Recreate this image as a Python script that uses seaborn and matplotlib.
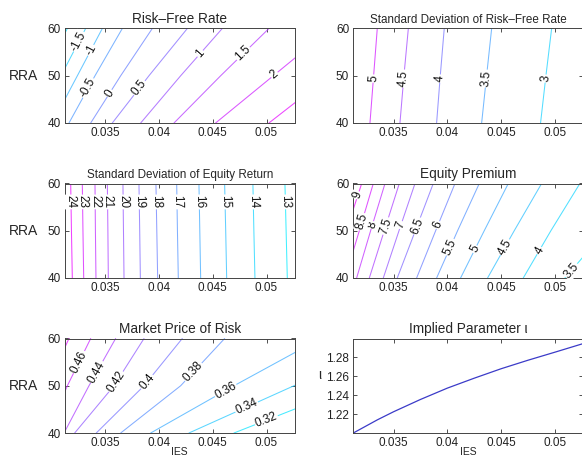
import numpy as np
import pandas as pd
import matplotlib
matplotlib.use("Agg")
import matplotlib.pyplot as plt
import seaborn as sns

# every contour is stored as the IES value where it crosses RRA = 40 / 50 / 60
rra_rows = [40, 50, 60]

rf_levels = [-2, -1.5, -1, -0.5, 0, 0.5, 1, 1.5, 2, 2.5]
rf_at40 = [0.02688, 0.02858, 0.03007, 0.03162, 0.03364, 0.03565, 0.03829, 0.04139, 0.04526, 0.05022]
rf_at50 = [0.02917, 0.03088, 0.03240, 0.03404, 0.03643, 0.03906, 0.04201, 0.04573, 0.05063, 0.05586]
rf_at60 = [0.03147, 0.03317, 0.03472, 0.03658, 0.03937, 0.04263, 0.04588, 0.05022, 0.05599, 0.06123]
rf_label_rra = [None, 57.2, 55.4, 47.4, 46.3, 47.4, 54.7, 54.7, 50.2, None]

sdrf_levels = [3, 3.5, 4, 4.5, 5]
sdrf_at40 = [0.04867, 0.04319, 0.03900, 0.03559, 0.03280]
sdrf_at50 = [0.04917, 0.04365, 0.03934, 0.03596, 0.03314]
sdrf_at60 = [0.04970, 0.04412, 0.03971, 0.03637, 0.03348]
sdrf_label_rra = [49.4] * 5

sdeq_levels = [13, 14, 15, 16, 17, 18, 19, 20, 21, 22, 23, 24]
sdeq_at40 = [0.05193, 0.04892, 0.04629, 0.04387, 0.04179, 0.03987, 0.03826, 0.03674, 0.03528, 0.03413, 0.03299, 0.03193]
sdeq_at50 = [0.05182, 0.04882, 0.04620, 0.04379, 0.04171, 0.03979, 0.03820, 0.03669, 0.03524, 0.03408, 0.03292, 0.03185]
sdeq_at60 = [0.05171, 0.04873, 0.04610, 0.04371, 0.04164, 0.03971, 0.03813, 0.03664, 0.03519, 0.03404, 0.03286, 0.03178]
sdeq_label_rra = [56.1] * 12

ep_levels = [3.5, 4, 4.5, 5, 5.5, 6, 6.5, 7, 7.5, 8, 8.5, 9]
ep_at40 = [0.05094, 0.04706, 0.04374, 0.04123, 0.03900, 0.03714, 0.03534, 0.03404, 0.03274, 0.03156, 0.03048, 0.02908]
ep_at50 = [0.05472, 0.04963, 0.04622, 0.04343, 0.04095, 0.03891, 0.03702, 0.03550, 0.03413, 0.03286, 0.03181, 0.03060]
ep_at60 = [0.05850, 0.05233, 0.04877, 0.04567, 0.04297, 0.04071, 0.03869, 0.03699, 0.03553, 0.03420, 0.03311, 0.03203]
ep_label_rra = [41.6, 45.8, 46.5, 46.1, 46.5, 51.2, 51.0, 51.2, 51.0, 51.2, 51.9, 57.5]

mpr_levels = [0.32, 0.34, 0.36, 0.38, 0.40, 0.42, 0.44, 0.46, 0.48]
mpr_at40 = [0.04697, 0.04278, 0.03922, 0.03643, 0.03416, 0.03215, 0.03116, 0.02961, 0.02775]
mpr_at50 = [0.05813, 0.05255, 0.04697, 0.04201, 0.03860, 0.03581, 0.03348, 0.03147, 0.02961]
mpr_at60 = [0.06712, 0.06092, 0.05503, 0.04610, 0.04216, 0.03860, 0.03596, 0.03364, 0.03162]
mpr_label_rra = [42.7, 45.5, 49.0, 52.9, 50.8, 50.8, 52.9, 55.0, None]

iota_ies = [0.03125, 0.0335, 0.035, 0.0375, 0.04, 0.0425, 0.045, 0.0475, 0.05, 0.0526]
iota_vals = [1.2000, 1.2140, 1.2225, 1.2355, 1.2475, 1.2580, 1.2680, 1.2770, 1.2855, 1.2945]

xlim = (0.03125, 0.0526)
xticks = [0.035, 0.04, 0.045, 0.05]
xticklabels = ["0.035", "0.04", "0.045", "0.05"]

sns.set_theme(style="white")
plt.rcParams["font.family"] = ["Liberation Sans", "DejaVu Sans"]
plt.rcParams["axes.unicode_minus"] = False


def long_frame(levels, cols):
    rows = []
    for i, lev in enumerate(levels):
        for r, col in zip(rra_rows, cols):
            rows.append({"level": lev, "RRA": r, "IES": col[i]})
    return pd.DataFrame(rows)


def style_axes(ax):
    ax.set_xlim(*xlim)
    ax.set_xticks(xticks)
    ax.set_xticklabels(xticklabels)
    ax.tick_params(direction="in", length=3, width=0.6, color="#333333",
                   top=True, right=True, bottom=True, left=True,
                   labelsize=8.5, labelcolor="#222222", pad=3)
    for s in ax.spines.values():
        s.set_linewidth(0.7)
        s.set_color("#444444")
    ax.set_xlabel("")
    ax.set_ylabel("")


def add_labels(ax, levels, cols, label_rra):
    for i, lev in enumerate(levels):
        r = label_rra[i]
        if r is None:
            continue
        xs = [c[i] for c in cols]
        x = np.interp(r, rra_rows, xs)
        x0 = np.interp(r - 1, rra_rows, xs)
        x1 = np.interp(r + 1, rra_rows, xs)
        p0 = ax.transData.transform((x0, r - 1))
        p1 = ax.transData.transform((x1, r + 1))
        ang = np.degrees(np.arctan2(p1[1] - p0[1], p1[0] - p0[0]))
        if ang > 90:
            ang -= 180
        elif ang <= -90:
            ang += 180
        ax.text(x, r, "%g" % lev, rotation=ang, rotation_mode="anchor",
                ha="center", va="center", fontsize=8.5, color="#111111", zorder=5,
                bbox=dict(facecolor="white", edgecolor="none", pad=0.6))


def contour_panel(ax, levels, cols, label_rra, title, title_size):
    df = long_frame(levels, cols)
    pal = sns.color_palette("cool", len(levels))
    sns.lineplot(data=df, x="IES", y="RRA", hue="level", hue_order=levels,
                 palette=pal, estimator=None, sort=False, legend=False,
                 linewidth=0.75, alpha=0.8, ax=ax)
    ax.set_ylim(40, 60)
    ax.set_yticks([40, 50, 60])
    style_axes(ax)
    ax.set_title(title, fontsize=title_size, pad=4)
    add_labels(ax, levels, cols, label_rra)


fig = plt.figure(figsize=(5.82, 4.65), dpi=100)
W, H = 582.0, 465.0
lefts = [65 / W, 353.3 / W]
width = 229.5 / W
bottoms = [1 - 123 / H, 1 - 278 / H, 1 - 433 / H]
height = 94.5 / H

ax_rf = fig.add_axes([lefts[0], bottoms[0], width, height])
ax_sdrf = fig.add_axes([lefts[1], bottoms[0], width, height])
ax_sdeq = fig.add_axes([lefts[0], bottoms[1], width, height])
ax_ep = fig.add_axes([lefts[1], bottoms[1], width, height])
ax_mpr = fig.add_axes([lefts[0], bottoms[2], width, height])
ax_iota = fig.add_axes([lefts[1], bottoms[2], width, height])

contour_panel(ax_rf, rf_levels, [rf_at40, rf_at50, rf_at60], rf_label_rra,
              "Risk\u2013Free Rate", 9.8)
contour_panel(ax_sdrf, sdrf_levels, [sdrf_at40, sdrf_at50, sdrf_at60], sdrf_label_rra,
              "Standard Deviation of Risk\u2013Free Rate", 8.4)
contour_panel(ax_sdeq, sdeq_levels, [sdeq_at40, sdeq_at50, sdeq_at60], sdeq_label_rra,
              "Standard Deviation of Equity Return", 8.4)
contour_panel(ax_ep, ep_levels, [ep_at40, ep_at50, ep_at60], ep_label_rra,
              "Equity Premium", 9.8)
contour_panel(ax_mpr, mpr_levels, [mpr_at40, mpr_at50, mpr_at60], mpr_label_rra,
              "Market Price of Risk", 9.8)

for ax in (ax_rf, ax_sdeq, ax_mpr):
    ax.set_ylabel("RRA", rotation=0, fontsize=10, ha="center", va="center")
    ax.yaxis.set_label_coords(-0.183, 0.5)

sns.lineplot(x=iota_ies, y=iota_vals, color="#3b3bc8", linewidth=0.9, ax=ax_iota)
ax_iota.set_ylim(1.2, 1.3)
ax_iota.set_yticks([1.22, 1.24, 1.26, 1.28])
ax_iota.set_yticklabels(["1.22", "1.24", "1.26", "1.28"])
style_axes(ax_iota)
ax_iota.set_title("Implied Parameter \u03b9", fontsize=9.8, pad=4)
ax_iota.set_ylabel("\u03b9", rotation=0, fontsize=10, ha="center", va="center")
ax_iota.yaxis.set_label_coords(-0.145, 0.61)

for ax in (ax_mpr, ax_iota):
    ax.set_xlabel("IES", fontsize=7.5, color="#222222")
    ax.xaxis.set_label_coords(0.5, -0.15)

fig.savefig("out.png", dpi=100)
